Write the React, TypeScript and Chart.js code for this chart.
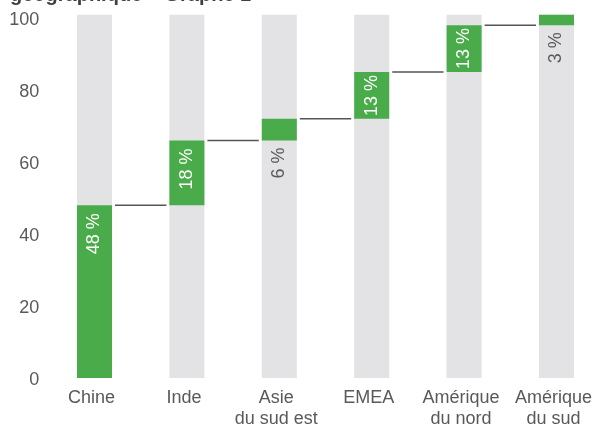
import React, { useEffect, useRef } from "react";
import { Chart, registerables } from "chart.js";

Chart.register(...registerables);

// ---- data ----
const categories: string[][] = [
  ["Chine"],
  ["Inde"],
  ["Asie", "du sud est"],
  ["EMEA"],
  ["Amérique", "du nord"],
  ["Amérique", "du sud"],
];
const shares = [48, 18, 6, 13, 13, 3];
const shareLabels = ["48 %", "18 %", "6 %", "13 %", "13 %", "3 %"];
const yTickValues = [0, 20, 40, 60, 80, 100];
const yMax = 101;
const titleText = "géographique – Graphe 1";

// waterfall: each share starts where the previous one ended
const ends: number[] = [];
shares.reduce((acc, s) => {
  const e = acc + s;
  ends.push(e);
  return e;
}, 0);
const starts = ends.map((e, i) => e - shares[i]);

// ---- styles ----
const FONT = '"Liberation Sans", Arial, Helvetica, sans-serif';
const GREEN = "#4aab4a";
const GRAY_BAR = "#e3e3e5";
const TEXT = "#595959";
const LINE = "#555555";
const TITLE = "#404040";

const CANVAS_W = 610;
const CANVAS_H = 446;

const overlayPlugin = {
  id: "overlay",
  afterDatasetsDraw(chart: any) {
    const ctx = chart.ctx as CanvasRenderingContext2D;
    const yScale = chart.scales.y;
    const meta = chart.getDatasetMeta(1);
    ctx.save();
    // connector lines
    ctx.strokeStyle = LINE;
    ctx.lineWidth = 1.5;
    for (let i = 0; i < meta.data.length - 1; i++) {
      const a: any = meta.data[i];
      const b: any = meta.data[i + 1];
      const py = yScale.getPixelForValue(ends[i]);
      const x1 = a.x + a.width / 2 + 3;
      const x2 = b.x - b.width / 2 - 3;
      ctx.beginPath();
      ctx.moveTo(x1, py);
      ctx.lineTo(x2, py);
      ctx.stroke();
    }
    // value labels (rotated)
    ctx.font = `18px ${FONT}`;
    meta.data.forEach((el: any, i: number) => {
      const text = shareLabels[i];
      const tw = ctx.measureText(text).width;
      const top = Math.min(el.y, el.base);
      const bottom = Math.max(el.y, el.base);
      const h = bottom - top;
      let cy: number;
      let color: string;
      if (h >= tw + 4) {
        const pad = Math.min(8, (h - tw) / 2);
        cy = top + pad + tw / 2;
        color = "#ffffff";
      } else {
        cy = bottom + 7 + tw / 2;
        color = TEXT;
      }
      ctx.save();
      ctx.translate(el.x, cy);
      ctx.rotate(-Math.PI / 2);
      ctx.textAlign = "center";
      ctx.textBaseline = "middle";
      ctx.fillStyle = color;
      ctx.fillText(text, 0, 0);
      ctx.restore();
    });
    ctx.restore();
  },
  afterDraw(chart: any) {
    const ctx = chart.ctx as CanvasRenderingContext2D;
    ctx.save();
    ctx.font = `bold 20px ${FONT}`;
    ctx.fillStyle = TITLE;
    ctx.textAlign = "left";
    ctx.textBaseline = "alphabetic";
    ctx.fillText(titleText, 10, 20.5);
    ctx.restore();
  },
};

export default function App() {
  const ref = useRef<HTMLCanvasElement | null>(null);

  useEffect(() => {
    if (!ref.current) return;
    const chart = new Chart(ref.current, {
      type: "bar",
      data: {
        labels: categories,
        datasets: [
          {
            label: "total",
            data: categories.map(() => [0, yMax]) as any,
            backgroundColor: GRAY_BAR,
            borderWidth: 0,
            barPercentage: 0.379,
            categoryPercentage: 1,
            order: 2,
          },
          {
            label: "part",
            data: shares.map((_, i) => [starts[i], ends[i]]) as any,
            backgroundColor: GREEN,
            borderWidth: 0,
            barPercentage: 0.379,
            categoryPercentage: 1,
            order: 1,
          },
        ],
      },
      options: {
        responsive: false,
        animation: false,
        devicePixelRatio: 1,
        layout: { padding: { top: 34.4, right: 7.3, left: 0, bottom: 0 } },
        plugins: {
          legend: { display: false },
          tooltip: { enabled: false },
          title: { display: false },
        },
        scales: {
          x: {
            stacked: true,
            grid: { display: false, drawTicks: false },
            border: { display: false },
            ticks: {
              color: TEXT,
              font: { family: FONT, size: 18, lineHeight: 1.2 },
              padding: 9,
              labelOffset: -3,
              maxRotation: 0,
              autoSkip: false,
            },
            afterFit(scale: any) {
              scale.height = 48;
            },
          },
          y: {
            stacked: false,
            min: 0,
            max: yMax,
            grid: { display: false, drawTicks: false },
            border: { display: false },
            ticks: {
              color: TEXT,
              font: { family: FONT, size: 18 },
              padding: 9,
              labelOffset: 2,
            },
            afterBuildTicks(scale: any) {
              scale.ticks = yTickValues.map((v) => ({ value: v }));
            },
            afterFit(scale: any) {
              scale.width = 48.3;
            },
          },
        },
      },
      plugins: [overlayPlugin],
    });
    return () => chart.destroy();
  }, []);

  return (
    <div
      style={{
        position: "absolute",
        left: 0,
        top: 0,
        width: 597,
        height: 426,
        overflow: "hidden",
        background: "#ffffff",
      }}
    >
      <canvas
        ref={ref}
        width={CANVAS_W}
        height={CANVAS_H}
        style={{ position: "absolute", left: 0, top: -20, width: CANVAS_W, height: CANVAS_H }}
      />
    </div>
  );
}
